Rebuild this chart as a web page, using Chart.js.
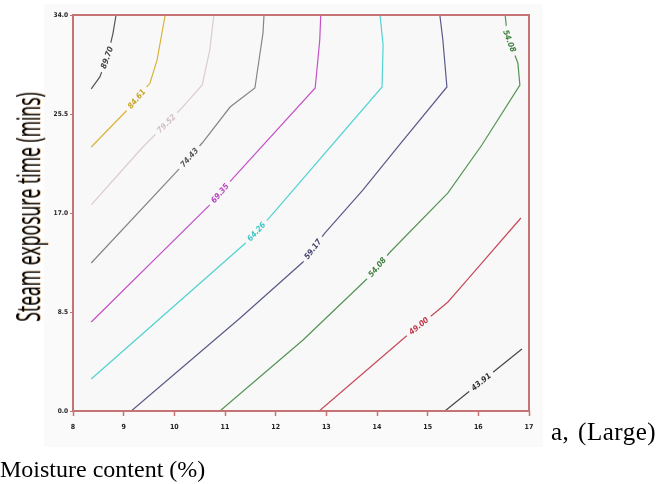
<!DOCTYPE html>
<html>
<head>
<meta charset="utf-8">
<script src="https://cdn.jsdelivr.net/npm/chart.js@4/dist/chart.umd.min.js"></script>
<style>
  html, body { margin: 0; padding: 0; background: #ffffff; }
  #wrap { position: relative; width: 667px; height: 484px; overflow: hidden; }
  #c { position: absolute; left: 0; top: 0; }
  .ytitle {
    position: absolute; left: 28px; top: 207px;
    font-family: "Open Sans", "Liberation Sans", sans-serif; font-size: 32px; color: #000;
    white-space: nowrap; line-height: 1;
    transform: translate(-50%, -50%) rotate(-90deg) scaleX(0.55);
    text-shadow: 0.5px 1px 0 rgba(205, 125, 45, 0.55);
  }
  .serif { position: absolute; font-family: "Liberation Serif", "Times New Roman", serif; font-size: 24px; color: #000; white-space: nowrap; line-height: 1; }
</style>
</head>
<body>
<div id="wrap">
  <canvas id="c" width="667" height="484"></canvas>
  <div class="ytitle">Steam exposure time (mins)</div>
  <div class="serif" style="left:551px; top:419px; font-size:25px; letter-spacing:0.5px; word-spacing:2px;">a, (Large)</div>
  <div class="serif" style="left:0px; top:457px;">Moisture content (%)</div>
</div>
<script>
// Axis ticks
const moistureTicks = [8, 9, 10, 11, 12, 13, 14, 15, 16, 17];
const timeTicks = [0, 8.5, 17, 25.5, 34];

// Contour levels (response value), highest at top-left
const levels = ['89.70', '84.61', '79.52', '74.43', '69.35', '64.26', '59.17', '54.08', '49.00', '43.91'];

// Contour paths: moisture content (x) and steam exposure time (y)
const c8970X = [8.36, 8.53, 8.69, 8.79, 8.85];
const c8970Y = [27.65, 28.68, 30.57, 32.45, 34.0];
const c8461X = [8.36, 9.07, 9.52, 9.66, 9.82];
const c8461Y = [22.67, 25.84, 28.16, 30.14, 34.0];
const c7952X = [8.36, 9.36, 10.11, 10.55, 10.70, 10.78];
const c7952Y = [17.69, 22.58, 25.84, 27.99, 31.0, 34.0];
const c7443X = [8.36, 10.11, 10.55, 11.10, 11.59, 11.75, 11.77];
const c7443Y = [12.71, 20.86, 23.01, 26.10, 27.73, 32.45, 34.0];
const c6935X = [8.36, 10.70, 11.16, 12.78, 12.87, 12.89];
const c6935Y = [7.64, 17.69, 20.0, 27.73, 31.85, 34.0];
const c6426X = [8.36, 11.43, 11.89, 14.10, 14.12, 14.06];
const c6426Y = [2.75, 14.51, 16.66, 27.82, 31.42, 34.0];
const c5917X = [9.15, 11.30, 12.54, 12.97, 13.72, 14.39, 15.38, 15.30, 15.24];
const c5917Y = [0, 7.98, 12.79, 15.28, 18.97, 22.58, 27.82, 31.85, 34.0];
const c5408X = [10.90, 12.54, 13.82, 14.26, 15.40, 16.07, 16.82, 16.78, 16.57, 16.53];
const c5408Y = [0, 6.10, 11.42, 13.65, 18.72, 22.84, 27.99, 29.88, 32.28, 34.0];
const c4900X = [12.86, 14.65, 15.14, 15.40, 15.78, 16.84];
const c4900Y = [0, 6.70, 8.41, 9.36, 11.25, 16.57];
const c4391X = [15.34, 16.86];
const c4391Y = [0, 5.32];

// Where each level label sits along its contour
const labelLevel = [0, 1, 2, 3, 4, 5, 6, 7, 7, 8, 9];
const labelX = [8.63, 9.28, 9.86, 10.35, 10.94, 11.69, 12.76, 14.02, 16.67, 14.89, 16.09];
const labelY = [30.4, 26.7, 24.6, 21.55, 18.55, 15.11, 13.82, 12.28, 31.85, 6.95, 2.32];

const contourX = [c8970X, c8461X, c7952X, c7443X, c6935X, c6426X, c5917X, c5408X, c4900X, c4391X];
const contourY = [c8970Y, c8461Y, c7952Y, c7443Y, c6935Y, c6426Y, c5917Y, c5408Y, c4900Y, c4391Y];

const lineColors = ['#555555', '#d9b43a', '#dccbd2', '#858585', '#c451c8', '#52d2d2', '#5a5a88', '#559455', '#c84a5a', '#454545'];
const textColors = ['#444444', '#c9a32a', '#d3bfc8', '#555555', '#b83ec0', '#3cc6c6', '#3f3f6a', '#3f7f3f', '#c03c4c', '#333333'];

const PLOT_BG = '#f8f8f8';
const FRAME = '#c57373';

const datasets = levels.map((lv, i) => ({
  label: lv,
  data: contourX[i].map((x, k) => ({ x: x, y: contourY[i][k] })),
  showLine: true,
  borderColor: lineColors[i],
  borderWidth: 1.2,
  pointRadius: 0,
  tension: 0,
  fill: false
}));

const backgroundPlugin = {
  id: 'bg',
  beforeDraw(chart) {
    const ctx = chart.ctx, a = chart.chartArea;
    ctx.save();
    ctx.fillStyle = '#fafafa';
    ctx.fillRect(44, 4, 499, 443);
    ctx.fillStyle = PLOT_BG;
    ctx.fillRect(a.left, a.top, a.right - a.left, a.bottom - a.top);
    ctx.restore();
  },
  afterDraw(chart) {
    const ctx = chart.ctx, a = chart.chartArea;
    ctx.save();
    ctx.strokeStyle = FRAME;
    ctx.lineWidth = 2;
    ctx.strokeRect(a.left, a.top, a.right - a.left, a.bottom - a.top);
    ctx.restore();
  }
};

// Inline contour labels: text rotated along the contour, with a gap cut into the line
const contourLabelPlugin = {
  id: 'contourLabels',
  afterDatasetsDraw(chart) {
    const ctx = chart.ctx, sx = chart.scales.x, sy = chart.scales.y;
    labelLevel.forEach((li, n) => {
      const pts = chart.data.datasets[li].data.map(p => [sx.getPixelForValue(p.x), sy.getPixelForValue(p.y)]);
      const tx = sx.getPixelForValue(labelX[n]), ty = sy.getPixelForValue(labelY[n]);
      let best = null;
      for (let k = 0; k < pts.length - 1; k++) {
        const [x1, y1] = pts[k], [x2, y2] = pts[k + 1];
        const dx = x2 - x1, dy = y2 - y1;
        const len2 = dx * dx + dy * dy;
        let t = len2 ? ((tx - x1) * dx + (ty - y1) * dy) / len2 : 0;
        t = Math.max(0, Math.min(1, t));
        const px = x1 + t * dx, py = y1 + t * dy;
        const d = (px - tx) ** 2 + (py - ty) ** 2;
        if (!best || d < best.d) best = { d, px, py, ang: Math.atan2(dy, dx) };
      }
      let ang = best.ang;
      if (ang > Math.PI / 2) ang -= Math.PI;
      if (ang < -Math.PI / 2) ang += Math.PI;
      ctx.save();
      ctx.translate(best.px, best.py);
      ctx.rotate(ang);
      ctx.font = 'italic bold 8px "DejaVu Sans Condensed", "Liberation Sans", sans-serif';
      const txt = levels[li];
      const w = ctx.measureText(txt).width;
      ctx.fillStyle = PLOT_BG;
      ctx.fillRect(-w / 2 - 4, -4, w + 8, 8);
      ctx.fillStyle = textColors[li];
      ctx.textAlign = 'center';
      ctx.textBaseline = 'middle';
      ctx.fillText(txt, 0, 0.5);
      ctx.restore();
    });
  }
};

new Chart(document.getElementById('c'), {
  type: 'scatter',
  data: { datasets },
  options: {
    responsive: false,
    animation: false,
    devicePixelRatio: 1,
    layout: { padding: { left: 0, top: 15, right: 138, bottom: 0 } },
    plugins: { legend: { display: false }, tooltip: { enabled: false } },
    scales: {
      x: {
        type: 'linear', min: 8, max: 17,
        afterBuildTicks: s => { s.ticks = moistureTicks.map(v => ({ value: v })); },
        afterFit: s => { s.height = 73; },
        border: { display: false },
        grid: { drawOnChartArea: false, drawTicks: true, tickLength: 5, color: FRAME, tickWidth: 1.5 },
        ticks: { padding: 7, color: '#222', font: { size: 7, weight: 'bold', family: 'DejaVu Sans Condensed' }, callback: v => String(v) }
      },
      y: {
        type: 'linear', min: 0, max: 34,
        afterBuildTicks: s => { s.ticks = timeTicks.map(v => ({ value: v })); },
        afterFit: s => { s.width = 73; },
        border: { display: false },
        grid: { drawOnChartArea: false, drawTicks: true, tickLength: 3, color: FRAME, tickWidth: 1 },
        ticks: { padding: 2, color: '#222', font: { size: 6.5, weight: 'bold', family: 'DejaVu Sans Condensed' }, callback: v => Number(v).toFixed(1) }
      }
    }
  },
  plugins: [backgroundPlugin, contourLabelPlugin]
});
</script>
</body>
</html>
